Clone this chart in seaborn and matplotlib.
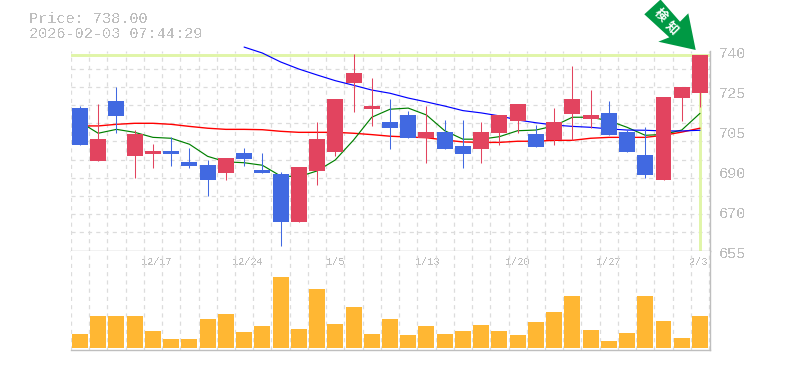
import numpy as np
import pandas as pd
import matplotlib
matplotlib.use("Agg")
import matplotlib.pyplot as plt
import seaborn as sns
from matplotlib.patches import Polygon
from matplotlib.transforms import ScaledTranslation

opens_top = [714.8,701.3,717.9,703.5,696.0,696.0,691.2,689.9,693.0,695.2,687.7,686.0,689.0,701.3,718.8,730.2,715.7,708.7,711.8,704.3,704.3,698.2,704.3,711.8,716.6,703.5,708.7,718.8,711.8,712.7,704.3,694.3,719.7,724.0,738.0]
body_low = [698.7,691.6,711.4,693.8,694.7,694.7,689.5,683.3,686.4,692.5,686.4,665.0,665.0,687.3,695.6,725.8,714.4,706.1,701.7,701.7,696.9,694.7,696.9,703.9,709.2,697.8,700.8,712.2,710.0,703.0,695.6,685.5,683.3,719.2,721.4]
highs = [715.7,716.6,724.2,705.2,699.1,702.2,697.3,692.1,693.0,697.3,695.2,686.8,689.0,708.7,718.8,738.5,728.0,718.8,713.5,715.7,709.6,709.6,708.7,711.8,716.6,707.4,714.8,733.2,722.7,717.9,705.2,706.5,719.7,724.0,738.0]
lows = [698.7,691.6,704.0,684.2,688.6,689.5,688.6,676.3,683.3,689.5,686.4,654.5,665.0,681.2,693.9,713.1,707.0,696.9,701.7,690.8,696.9,688.6,690.8,698.7,703.9,697.8,698.7,700.8,706.1,703.0,695.6,684.2,683.3,709.2,715.3]
is_up = [0,1,0,1,1,0,0,0,1,0,0,0,1,1,1,1,1,0,0,1,0,0,1,1,1,0,1,1,1,0,0,0,1,1,1]
volume = [14,32,32,32,17,9,9,29,34,16,22,71,19,59,24,41,14,29,13,22,14,17,23,17,13,26,36,52,18,7,15,52,27,10,32]
ma_red = [707.0,707.0,707.7,708.15,708.15,707.7,706.8,706.0,705.5,705.5,705.35,704.65,704.2,704.2,704.2,703.8,703.2,702.5,702.15,701.85,700.85,700.0,699.8,699.8,700.3,700.3,700.7,700.7,701.6,702.0,702.0,702.0,702.9,704.3,706.0]
ma_green = [708.7,703.8,705.5,704.2,702.0,701.6,699.0,693.7,691.3,690.9,689.8,685.1,684.8,687.3,692.1,700.8,710.8,714.3,714.8,711.8,704.9,701.2,701.2,702.3,704.9,705.2,707.0,710.8,710.8,709.3,706.4,702.9,703.3,705.2,712.5]
ma_blue = [np.nan]*9 + [741.5,738.9,735.0,731.9,729.3,726.8,724.8,722.7,721.3,719.2,717.5,715.7,713.7,712.7,711.4,709.6,708.4,707.4,706.8,706.4,705.7,705.2,705.1,704.8,704.8,705.1]
price_ticks = [740,722.5,705,687.5,670,652.5]
price_labels = ["740","725","705","690","670","655"]
date_pos = [4.2,9.2,14,19.05,24,29,33.9]
date_labels = ["12/17","12/24","1/5","1/13","1/20","1/27","2/3"]
current = 738.0

W,H = 785,370
RED,BLUE,ORANGE,PALE,GREY,GRID = "#E2445F","#4169E1","#FFB733","#E0F5A8","#BEBEBE","#DCDCDC"
sns.set_theme(style="white")
plt.rcParams["font.family"] = ["Liberation Mono","DejaVu Sans Mono"]
plt.rcParams["text.antialiased"] = False
fig = plt.figure(figsize=(W/100,H/100),dpi=100,facecolor="white")
def axes_px(l,t,r,b):
    return fig.add_axes([l/W,1-b/H,(r-l)/W,(b-t)/H])
ax = axes_px(70.5,50.5,710,250.5)
av = axes_px(70.5,250.5,710,350)
idx = np.arange(len(volume))
xlim = (-0.52,34.55)
xgrid = np.arange(35+1)-0.5

# price pane
ax.set_xlim(*xlim); ax.set_ylim(652.5,740)
ax.set_xticks(xgrid,minor=True); ax.set_yticks(np.linspace(652.5,740,12),minor=True)
ax.grid(which="minor",color=GRID,lw=0.9,ls=(0,(3.3,3.3)),zorder=0)
ax.grid(which="major",visible=False)
ax.axhline(current,color=PALE,lw=2.1,zorder=1)
ax.plot([34,34],[652.5,current],color=PALE,lw=2.1,zorder=1,solid_capstyle="butt")
df = pd.DataFrame({"i":idx,"red":ma_red,"green":ma_green,"blue":ma_blue})
sns.lineplot(data=df,x="i",y="red",color="#FF0000",lw=1.0,ax=ax,zorder=2,errorbar=None)
sns.lineplot(data=df,x="i",y="green",color="#008000",lw=0.85,ax=ax,zorder=2,errorbar=None)
sns.lineplot(data=df.dropna(),x="i",y="blue",color="#0000FF",lw=0.85,ax=ax,zorder=2,errorbar=None)
ax.lines[-1].set_clip_on(False)
cols=[RED if u else BLUE for u in is_up]
ax.vlines(idx,lows,highs,colors=cols,lw=0.75,zorder=3)
ax.bar(idx,np.array(opens_top)-np.array(body_low),bottom=body_low,width=0.877,color=cols,lw=0,zorder=4,antialiased=False)

ax.set_xlabel("");ax.set_ylabel("")
ax.set_xticks(date_pos,[""]*len(date_pos))
ax.tick_params(which="both",length=0,bottom=False,left=False)
ax.yaxis.tick_right()
ax.set_yticks(price_ticks,price_labels)
ax.tick_params(axis="y",which="major",labelsize=11,labelcolor=GREY,pad=6.5,length=0)
off = ScaledTranslation(0,-1.5/100,fig.dpi_scale_trans)
for lab in ax.get_yticklabels():
    lab.set_transform(lab.get_transform()+off)
for s in ["left","top"]:
    ax.spines[s].set_visible(False)
for s in ["right","bottom"]:
    ax.spines[s].set_color(GREY); ax.spines[s].set_linewidth(1.0)

# volume pane
sns.barplot(x=idx,y=volume,native_scale=True,width=0.877,color=ORANGE,saturation=1,ax=av,zorder=3,errorbar=None,linewidth=0)
av.set_xlim(*xlim); av.set_ylim(-2,97.5)
av.set_xticks(xgrid,minor=True)
av.grid(which="minor",axis="x",color=GRID,lw=0.9,ls=(0,(3.3,3.3)),zorder=0)
av.grid(which="major",visible=False)
av.set_yticks([]); av.set_xlabel(""); av.set_ylabel("")
av.xaxis.tick_top()
av.set_xticks(date_pos,date_labels)
av.tick_params(axis="x",which="both",length=0,labelsize=7.3,labelcolor=GREY,pad=-12,top=False,bottom=False)
for s in ["left","top"]:
    av.spines[s].set_visible(False)
for s in ["right","bottom"]:
    av.spines[s].set_color(GREY); av.spines[s].set_linewidth(1.0)

# header
fig.text(29/W,1-19/H,"Price: 738.00",color=GREY,fontsize=11,va="center",ha="left")
fig.text(29/W,1-33.5/H,"2026-02-03 07:44:29",color=GREY,fontsize=11,va="center",ha="left")

# arrow badge
pts=[(660,0),(644.3,14.3),(669.3,37.3),(658.3,41.7),(695.7,50),(688.3,13.3),(680,21.7),(661,0)]
fig.add_artist(Polygon([(x/W,1-y/H) for x,y in pts],closed=True,transform=fig.transFigure,fc="#009944",ec="none",zorder=5))
for ch,(x,y) in zip("検知",[(660,15),(672,28)]):
    t=fig.text(x/W,1-y/H,ch,color="white",fontsize=9,rotation=-45,ha="center",va="center",
         family=["Noto Sans CJK JP","DejaVu Sans"],fontweight="bold",zorder=6,rotation_mode="anchor")
    t.set_antialiased(True)
fig.savefig("out.png",dpi=100)
